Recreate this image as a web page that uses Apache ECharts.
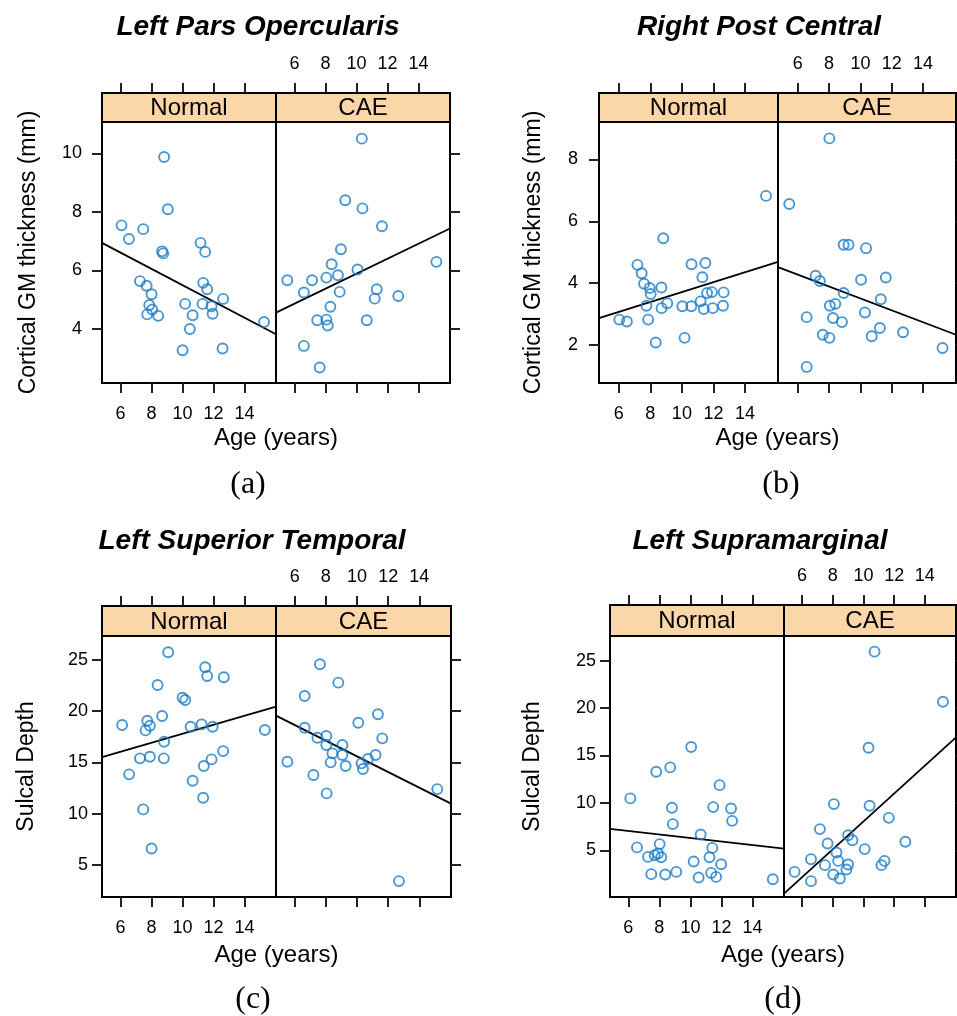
<!DOCTYPE html>
<html><head><meta charset="utf-8">
<script src="https://cdn.jsdelivr.net/npm/echarts@6/dist/echarts.min.js"></script>
<style>html,body{margin:0;padding:0;background:#fff}#c{width:957px;height:1016px}</style>
</head><body><div id="c"></div>
<script>
// ---------- data ----------
const groups = ['Normal', 'CAE'];
const titles = ['Left Pars Opercularis', 'Right Post Central', 'Left Superior Temporal', 'Left Supramarginal'];
const captions = ['(a)', '(b)', '(c)', '(d)'];
const yNames = ['Cortical GM thickness (mm)', 'Cortical GM thickness (mm)', 'Sulcal Depth', 'Sulcal Depth'];
const xName = 'Age (years)';
const xTicks = [6, 8, 10, 12, 14];
const yTicksA = [4, 6, 8, 10];
const yTicksB = [2, 4, 6, 8];
const yTicksC = [5, 10, 15, 20, 25];
const yTicksD = [5, 10, 15, 20, 25];

// [age, value]
const aNormal = [[8.81,9.88],[9.05,8.09],[6.06,7.54],[7.46,7.41],[6.54,7.07],[8.68,6.65],[8.75,6.58],[11.16,6.94],[11.46,6.63],[7.25,5.63],[7.68,5.47],[8.0,5.18],[11.33,5.57],[11.59,5.35],[12.62,5.02],[7.85,4.81],[8.04,4.66],[7.72,4.49],[8.43,4.44],[10.17,4.85],[11.29,4.85],[11.87,4.77],[10.65,4.46],[11.94,4.51],[10.47,3.99],[10.0,3.26],[12.58,3.32],[15.26,4.23]];
const aCAE = [[10.34,10.51],[9.27,8.40],[10.38,8.12],[11.64,7.51],[8.99,6.72],[8.39,6.21],[10.06,6.03],[15.15,6.29],[5.53,5.66],[7.13,5.66],[8.05,5.75],[8.80,5.83],[6.60,5.24],[8.91,5.26],[11.30,5.35],[11.17,5.03],[12.69,5.12],[8.31,4.75],[7.46,4.29],[8.05,4.31],[8.14,4.11],[10.66,4.29],[6.60,3.41],[7.62,2.67]];
const bNormal = [[15.34,6.82],[8.82,5.45],[7.18,4.59],[7.45,4.32],[7.60,3.98],[7.96,3.84],[8.02,3.65],[8.70,3.86],[10.61,4.61],[11.49,4.65],[11.30,4.19],[7.75,3.27],[8.71,3.19],[9.07,3.35],[10.03,3.25],[10.60,3.25],[11.19,3.41],[11.39,3.16],[11.60,3.68],[11.91,3.71],[11.96,3.19],[12.65,3.70],[12.61,3.27],[6.03,2.82],[6.51,2.76],[7.86,2.82],[8.34,2.08],[10.17,2.23]];
const bCAE = [[8.02,8.68],[5.46,6.56],[8.93,5.24],[9.24,5.24],[10.36,5.13],[7.14,4.24],[7.41,4.07],[10.04,4.11],[11.62,4.18],[8.93,3.68],[8.05,3.27],[8.40,3.33],[11.30,3.48],[6.57,2.90],[8.25,2.87],[8.82,2.74],[10.29,3.05],[7.60,2.33],[8.02,2.23],[10.72,2.28],[11.24,2.55],[12.72,2.41],[15.24,1.90],[6.57,1.29]];
const cNormal = [[9.07,25.75],[11.46,24.29],[11.59,23.44],[12.66,23.31],[8.39,22.56],[10.0,21.32],[10.17,21.09],[6.10,18.65],[7.72,19.07],[7.89,18.58],[7.61,18.13],[8.68,19.53],[10.52,18.49],[11.23,18.72],[11.94,18.49],[15.31,18.16],[8.81,17.02],[7.25,15.40],[7.89,15.56],[8.79,15.40],[12.62,16.11],[11.87,15.30],[11.37,14.65],[6.55,13.84],[10.65,13.22],[11.33,11.55],[7.46,10.42],[8.0,6.61]];
const cCAE = [[7.62,24.58],[8.80,22.79],[6.64,21.48],[11.34,19.70],[10.08,18.88],[6.64,18.39],[11.62,17.35],[7.46,17.41],[8.03,17.58],[8.03,16.70],[9.06,16.70],[8.42,15.89],[9.06,15.72],[11.19,15.72],[10.70,15.33],[10.29,14.91],[10.38,14.36],[8.31,15.01],[9.27,14.65],[5.53,15.07],[7.20,13.77],[8.05,11.98],[15.15,12.40],[12.69,3.42]];
const dNormal = [[10.05,15.89],[7.80,13.28],[8.70,13.74],[11.88,11.87],[6.13,10.47],[8.81,9.48],[11.47,9.55],[12.62,9.41],[12.69,8.10],[8.87,7.76],[10.66,6.67],[6.56,5.30],[8.02,5.65],[11.41,5.25],[7.27,4.30],[7.70,4.48],[7.91,4.66],[8.12,4.27],[11.23,4.27],[10.21,3.82],[11.98,3.53],[7.48,2.48],[8.38,2.44],[9.09,2.72],[10.53,2.13],[11.34,2.61],[11.66,2.19],[15.31,1.95]];
const dCAE = [[10.72,25.95],[15.18,20.67],[10.33,15.81],[8.07,9.87],[10.40,9.69],[11.65,8.42],[7.16,7.23],[9.0,6.59],[9.28,6.06],[7.66,5.72],[12.73,5.89],[10.08,5.12],[8.24,4.77],[6.58,4.06],[8.35,3.88],[9.0,3.50],[8.89,2.97],[7.49,3.43],[11.37,3.88],[11.17,3.43],[5.51,2.72],[8.03,2.44],[8.46,2.02],[6.58,1.74]];

// fitted line values at the left and right edge of each panel [left, right]
const fitA = [[6.94, 3.81], [4.55, 7.43]];
const fitB = [[2.87, 4.69], [4.52, 2.33]];
const fitC = [[15.53, 20.45], [19.57, 10.98]];
const fitD = [[7.25, 5.18], [0.43, 16.9]];

// ---------- layout ----------
const panelData = [[aNormal, aCAE], [bNormal, bCAE], [cNormal, cCAE], [dNormal, dCAE]];
const fits = [fitA, fitB, fitC, fitD];
const yTicks = [yTicksA, yTicksB, yTicksC, yTicksD];
const L = [
  {left:102, mid:276, right:450, stripTop:93, top:122, bottom:383, x:[4.8,16.03], y:[2.14,11.08], yLabM:20, yNameGap:62, titleX:258, titleY:27, capX:248, capY:485, xNameY:438},
  {left:599, mid:778, right:956, stripTop:93, top:122, bottom:383, x:[4.74,16.1], y:[0.77,9.21], yLabM:21, yNameGap:54, titleX:759, titleY:27, capX:781, capY:485, xNameY:438},
  {left:102, mid:276, right:451, stripTop:606, top:636, bottom:897, x:[4.8,16.03], y:[1.87,27.34], yLabM:14, yNameGap:64, titleX:252, titleY:541, capX:253, capY:1000, xNameY:955},
  {left:610, mid:784, right:956, stripTop:605, top:636, bottom:897, x:[4.82,16.03], y:[0.07,27.6], yLabM:14, yNameGap:66, titleX:760, titleY:541, capX:783, capY:1000, xNameY:955}
];
const SANS = '"Liberation Sans", Arial, Helvetica, sans-serif';
const SERIF = '"Liberation Serif", "Times New Roman", serif';
const PT = '#1a7cc8';

const grid = [], xAxis = [], yAxis = [], series = [], graphic = [];
L.forEach((p, pi) => {
  groups.forEach((gname, s) => {
    const g = pi * 2 + s;
    const gl = s === 0 ? p.left : p.mid;
    const gr = s === 0 ? p.mid : p.right;
    grid.push({left: gl, top: p.top, width: gr - gl, height: p.bottom - p.top, show: true,
      borderColor: '#000', borderWidth: 2, backgroundColor: 'transparent'});
    const tickCommon = {show: true, length: 10, inside: false, customValues: xTicks, lineStyle: {color: '#222', width: 2}};
    xAxis.push({gridIndex: g, type: 'value', min: p.x[0], max: p.x[1], position: 'bottom',
      axisLine: {show: false, onZero: false}, splitLine: {show: false}, axisTick: tickCommon,
      axisLabel: {show: s === 0, customValues: xTicks, margin: 22, fontSize: 18, color: '#000', fontFamily: SANS}});
    xAxis.push({gridIndex: g, type: 'value', min: p.x[0], max: p.x[1], position: 'top', offset: p.top - p.stripTop,
      axisLine: {show: false, onZero: false}, splitLine: {show: false}, axisTick: tickCommon,
      axisLabel: {show: s === 1, customValues: xTicks, margin: 20, fontSize: 18, color: '#000', fontFamily: SANS}});
    yAxis.push({gridIndex: g, type: 'value', min: p.y[0], max: p.y[1], position: s === 0 ? 'left' : 'right',
      axisLine: {show: false, onZero: false}, splitLine: {show: false},
      axisTick: {show: true, length: 10, customValues: yTicks[pi], lineStyle: {color: '#222', width: 2}},
      axisLabel: {show: s === 0, customValues: yTicks[pi], margin: p.yLabM, fontSize: 18, color: '#000', fontFamily: SANS},
      name: s === 0 ? yNames[pi] : '', nameLocation: 'middle', nameGap: p.yNameGap,
      nameTextStyle: {fontSize: 23, color: '#000', fontFamily: SANS}});
    series.push({type: 'line', xAxisIndex: 2 * g, yAxisIndex: g, silent: true, symbol: 'none', z: 2,
      data: [[p.x[0], fits[pi][s][0]], [p.x[1], fits[pi][s][1]]],
      lineStyle: {color: '#000', width: 1.8}});
    series.push({type: 'scatter', xAxisIndex: 2 * g, yAxisIndex: g, z: 3, symbol: 'circle', symbolSize: 10,
      data: panelData[pi][s],
      itemStyle: {color: 'transparent', borderColor: PT, borderWidth: 1.9}});
    // strip
    graphic.push({type: 'rect', shape: {x: gl, y: p.stripTop, width: gr - gl, height: p.top - p.stripTop},
      style: {fill: '#fbd6a9', stroke: '#000', lineWidth: 2}, z: 10});
    graphic.push({type: 'text', x: (gl + gr) / 2, y: (p.stripTop + p.top) / 2 + 1, z: 11,
      style: {text: gname, fontSize: 24, fontFamily: SANS, fill: '#000', align: 'center', verticalAlign: 'middle', textAlign: 'center', textVerticalAlign: 'middle'}});
  });
  graphic.push({type: 'text', x: p.titleX, y: p.titleY, z: 11,
    style: {text: titles[pi], fontSize: 28, fontStyle: 'italic', fontWeight: 'bold', fontFamily: SANS, fill: '#000', align: 'center', verticalAlign: 'middle', textAlign: 'center', textVerticalAlign: 'middle'}});
  graphic.push({type: 'text', x: (p.left + p.right) / 2, y: p.xNameY, z: 11,
    style: {text: xName, fontSize: 24, fontFamily: SANS, fill: '#000', align: 'center', verticalAlign: 'middle', textAlign: 'center', textVerticalAlign: 'middle'}});
  graphic.push({type: 'text', x: p.capX, y: p.capY, z: 11,
    style: {text: captions[pi], fontSize: 32, fontFamily: SERIF, fill: '#000', align: 'center', verticalAlign: 'middle', textAlign: 'center', textVerticalAlign: 'middle'}});
});

const chart = echarts.init(document.getElementById('c'), null, {renderer: 'canvas'});
chart.setOption({animation: false, backgroundColor: '#fff', grid, xAxis, yAxis, series, graphic});
</script>
</body></html>
